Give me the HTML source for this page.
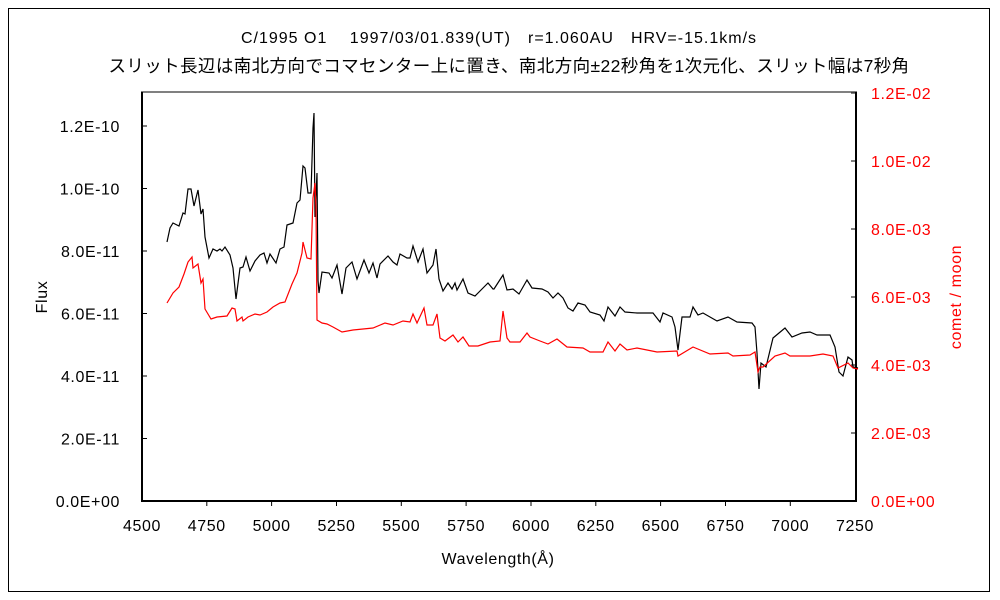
<!DOCTYPE html>
<html><head><meta charset="utf-8"><style>
body{margin:0;background:#fff}
svg{display:block}
text{font-family:"Liberation Sans","Noto Sans CJK JP",sans-serif;font-size:16px;letter-spacing:0.6px}
</style></head><body>
<svg width="1000" height="600" viewBox="0 0 1000 600" xmlns="http://www.w3.org/2000/svg">
<rect x="0" y="0" width="1000" height="600" fill="#fff"/>
<rect x="8.5" y="8.5" width="981" height="583" fill="none" stroke="#000" stroke-width="1"/>
<text x="499" y="43" text-anchor="middle" style="letter-spacing:1px">C/1995 O1　 1997/03/01.839(UT)　r=1.060AU　HRV=-15.1km/s</text>
<text x="509" y="72" text-anchor="middle" style="font-size:17.5px;letter-spacing:0.4px">スリット長辺は南北方向でコマセンター上に置き、南北方向±22秒角を1次元化、スリット幅は7秒角</text>
<rect x="142" y="92" width="714" height="409" fill="none" stroke="#808080" stroke-width="2"/>
<line x1="142" y1="92" x2="142" y2="502" stroke="#000" stroke-width="2"/>
<line x1="856" y1="92" x2="856" y2="502" stroke="#000" stroke-width="2"/>
<line x1="141" y1="501" x2="857" y2="501" stroke="#000" stroke-width="2"/>
<g stroke="#000" stroke-width="1">
<line x1="142" y1="126" x2="147" y2="126"/><line x1="142" y1="188.5" x2="147" y2="188.5"/><line x1="142" y1="251" x2="147" y2="251"/><line x1="142" y1="313.5" x2="147" y2="313.5"/><line x1="142" y1="376" x2="147" y2="376"/><line x1="142" y1="438.5" x2="147" y2="438.5"/>
<line x1="851" y1="93" x2="856" y2="93"/><line x1="851" y1="161" x2="856" y2="161"/><line x1="851" y1="229" x2="856" y2="229"/><line x1="851" y1="297" x2="856" y2="297"/><line x1="851" y1="365" x2="856" y2="365"/><line x1="851" y1="433" x2="856" y2="433"/>
<line x1="206.8" y1="501" x2="206.8" y2="506"/><line x1="271.6" y1="501" x2="271.6" y2="506"/><line x1="336.5" y1="501" x2="336.5" y2="506"/><line x1="401.3" y1="501" x2="401.3" y2="506"/><line x1="466.1" y1="501" x2="466.1" y2="506"/><line x1="531" y1="501" x2="531" y2="506"/><line x1="595.8" y1="501" x2="595.8" y2="506"/><line x1="660.6" y1="501" x2="660.6" y2="506"/><line x1="725.5" y1="501" x2="725.5" y2="506"/><line x1="790.3" y1="501" x2="790.3" y2="506"/>
</g>
<g text-anchor="end">
<text x="120" y="132">1.2E-10</text><text x="120" y="194.5">1.0E-10</text><text x="120" y="257">8.0E-11</text><text x="120" y="319.5">6.0E-11</text><text x="120" y="382">4.0E-11</text><text x="120" y="444.5">2.0E-11</text><text x="120" y="507">0.0E+00</text>
</g>
<g fill="#f00">
<text x="871" y="99">1.2E-02</text><text x="871" y="167">1.0E-02</text><text x="871" y="235">8.0E-03</text><text x="871" y="303">6.0E-03</text><text x="871" y="371">4.0E-03</text><text x="871" y="439">2.0E-03</text><text x="871" y="507">0.0E+00</text>
</g>
<g text-anchor="middle">
<text x="142" y="531">4500</text><text x="206.8" y="531">4750</text><text x="271.6" y="531">5000</text><text x="336.5" y="531">5250</text><text x="401.3" y="531">5500</text><text x="466.1" y="531">5750</text><text x="531" y="531">6000</text><text x="595.8" y="531">6250</text><text x="660.6" y="531">6500</text><text x="725.5" y="531">6750</text><text x="790.3" y="531">7000</text><text x="855" y="531">7250</text>
<text x="498" y="564">Wavelength(Å)</text>
</g>
<text transform="translate(47,297) rotate(-90)" text-anchor="middle">Flux</text>
<text transform="translate(961,297) rotate(-90)" text-anchor="middle" fill="#f00">comet / moon</text>
<polyline fill="none" stroke="#000" stroke-width="1.2" points="167,242 170,228 173,223 179,226 183,213 185,214 188,189 191,189 194,206 198,190 201,214 203,209 205,237 209,258 213,249 217,251 220,249 222,251 225,247 230,255 233,268 236,299 240,268 243,267 246,257 250,271 255,261 260,255 264,253 267,263 270,254 276,263 280,249 284,247 287,225 293,223 297,203 300,200 303,166 305,168 308,193 311,193 313,128 314,113 315,217 317,173 318,280 319,293 322,272 329,273 332,278 337,265 342,294 346,268 352,262 357,279 364,260 369,273 373,263 377,278 380,264 388,256 393,262 397,265 400,254 407,258 410,258 413,246 418,262 423,249 427,273 433,265 436,249 439,279 443,291 448,283 452,289 455,283 457,290 463,279 468,293 475,296 482,289 488,283 493,289 494,289 503,275 507,290 513,289 519,294 527,280 532,288 542,289 548,292 553,298 558,293 563,298 568,308 573,311 578,303 585,305 590,312 600,315 604,321 608,307 615,316 620,307 625,312 637,313 653,313 660,322 663,313 672,317 675,327 678,350 682,317 690,317 693,307 698,315 703,313 717,321 728,317 737,322 752,323 755,327 757,353 759,389 761,363 766,367 773,338 785,328 792,337 802,333 810,332 817,335 830,335 835,347 839,372 843,376 848,357 852,360 853,367 858,368"/>
<polyline fill="none" stroke="#f00" stroke-width="1.2" points="167,303 173,293 179,287 184,274 188,262 192,257 193,268 198,264 201,283 203,279 205,309 211,319 217,317 227,316 232,308 235,309 237,321 242,317 243,321 248,317 255,314 260,315 267,312 273,307 280,303 285,302 292,284 297,273 302,253 303,242 307,258 311,259 313,198 315,183 316,207 317,320 322,323 327,324 333,327 342,332 353,330 373,328 385,323 393,325 403,321 410,322 413,314 417,323 424,308 427,325 433,325 437,314 440,338 445,341 453,335 458,342 463,337 469,346 478,346 487,343 490,342 500,341 503,311 507,338 510,342 520,342 527,333 530,337 540,341 548,344 557,339 567,347 583,348 590,352 603,352 608,342 615,351 620,344 627,350 637,348 657,352 677,351 678,356 693,347 710,354 728,353 733,356 750,355 755,352 758,372 760,367 763,367 775,356 785,353 790,356 810,356 823,354 833,356 838,368 848,363 853,368 858,369"/>
</svg>
</body></html>
